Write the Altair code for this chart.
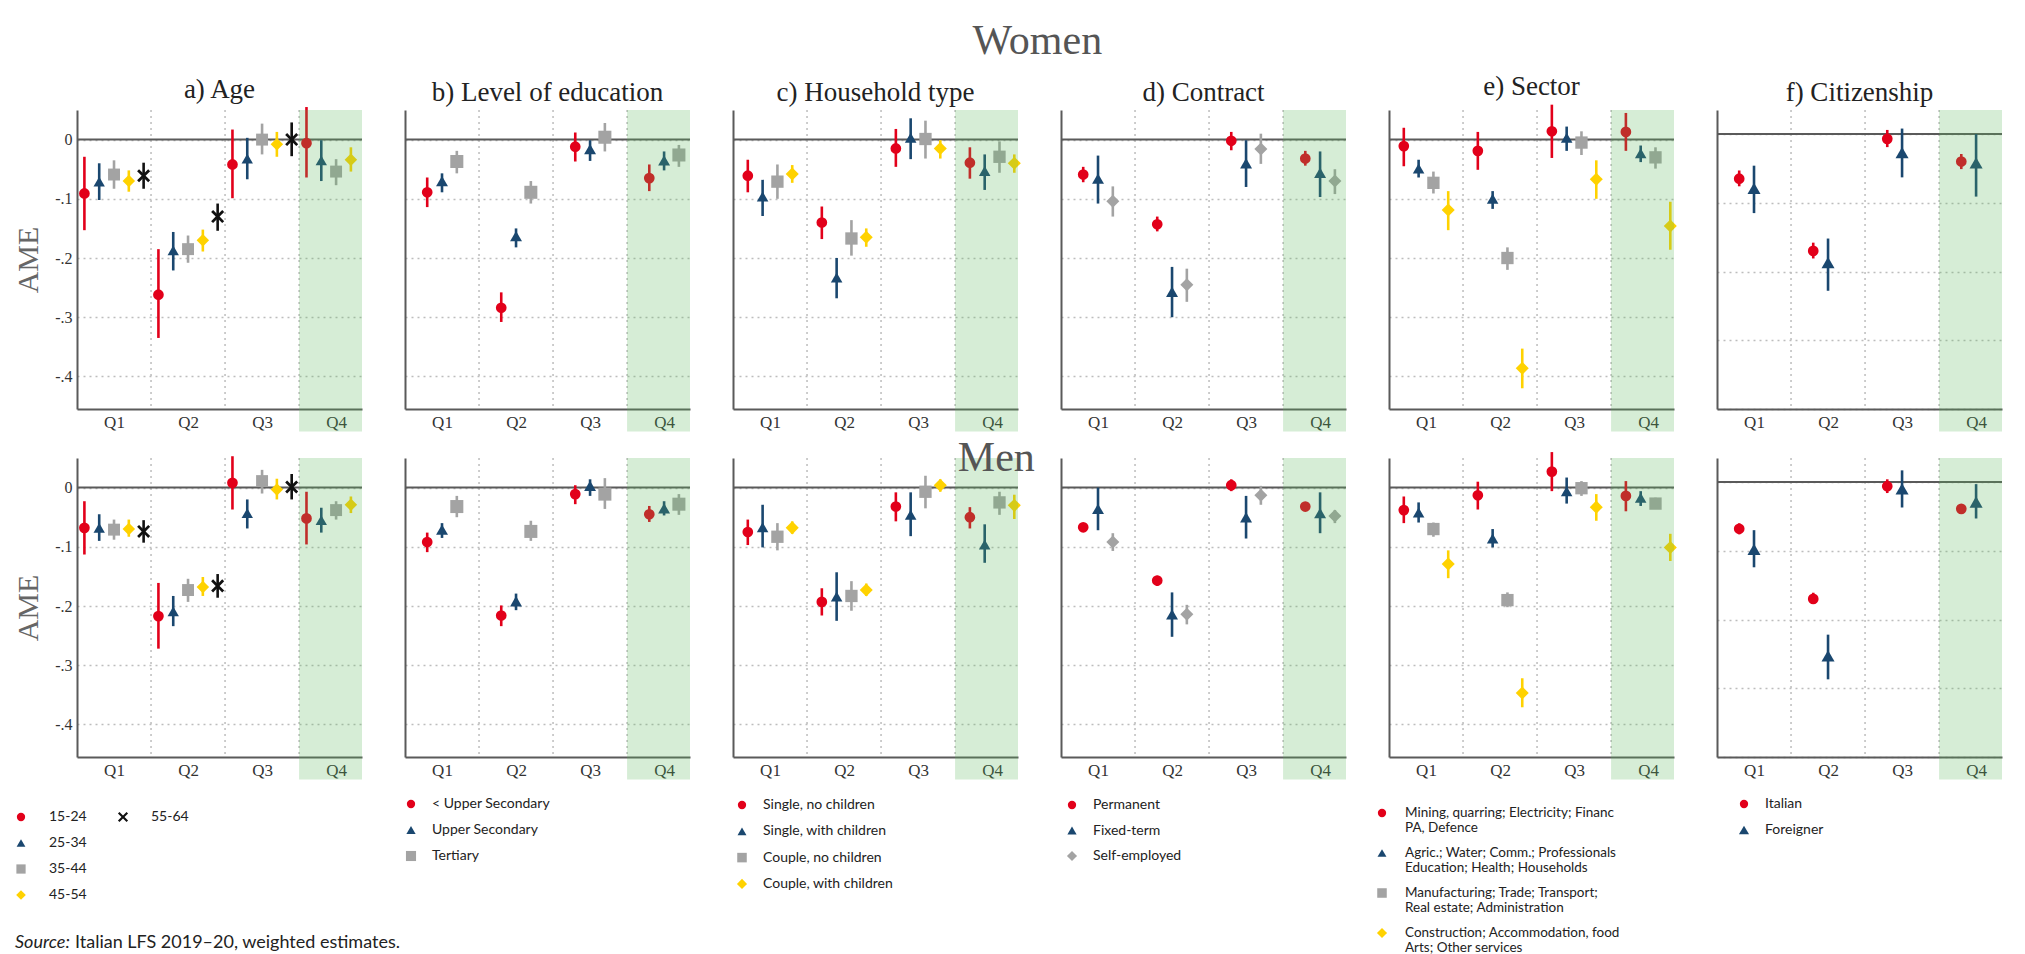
import altair as alt
import pandas as pd

SERIF = "Liberation Serif"
SANS = "Lato"

quarters = ["Q1", "Q2", "Q3", "Q4"]

# ---------------- labels ----------------
panel_titles = ["a) Age", "b) Level of education", "c) Household type",
                "d) Contract", "e) Sector", "f) Citizenship"]
age_labels = ["15-24", "25-34", "35-44", "45-54", "55-64"]
edu_labels = ["< Upper Secondary", "Upper Secondary", "Tertiary"]
hh_labels = ["Single, no children", "Single, with children",
             "Couple, no children", "Couple, with children"]
con_labels = ["Permanent", "Fixed-term", "Self-employed"]
sec_labels = ["Mining, quarring; Electricity; Financ\nPA, Defence",
              "Agric.; Water; Comm.; Professionals\nEducation; Health; Households",
              "Manufacturing; Trade; Transport;\nReal estate; Administration",
              "Construction; Accommodation, food\nArts; Other services"]
cit_labels = ["Italian", "Foreigner"]

# ---------------- Women ----------------
age_w_est = [[-0.091, -0.262, -0.042, -0.006], [-0.071, -0.187, -0.032, -0.035],
             [-0.059, -0.185, 0.000, -0.054], [-0.070, -0.170, -0.008, -0.034],
             [-0.061, -0.130, 0.000, None]]
age_w_lo = [[-0.153, -0.335, -0.099, -0.064], [-0.102, -0.221, -0.067, -0.070],
            [-0.083, -0.208, -0.025, -0.077], [-0.088, -0.189, -0.029, -0.054],
            [-0.083, -0.154, -0.028, None]]
age_w_hi = [[-0.029, -0.185, 0.017, 0.055], [-0.040, -0.156, 0.003, -0.001],
            [-0.035, -0.162, 0.027, -0.033], [-0.052, -0.152, 0.013, -0.013],
            [-0.039, -0.108, 0.029, None]]

edu_w_est = [[-0.089, -0.284, -0.012, -0.065], [-0.070, -0.163, -0.016, -0.035],
             [-0.037, -0.089, 0.004, -0.026]]
edu_w_lo = [[-0.114, -0.308, -0.037, -0.087], [-0.089, -0.182, -0.036, -0.052],
            [-0.057, -0.108, -0.020, -0.046]]
edu_w_hi = [[-0.064, -0.258, 0.012, -0.042], [-0.057, -0.150, -0.001, -0.020],
            [-0.019, -0.070, 0.028, -0.009]]

hh_w_est = [[-0.061, -0.140, -0.015, -0.039], [-0.096, -0.233, 0.003, -0.053],
            [-0.071, -0.167, 0.001, -0.029], [-0.058, -0.165, -0.015, -0.040]]
hh_w_lo = [[-0.089, -0.168, -0.046, -0.066], [-0.129, -0.268, -0.033, -0.085],
           [-0.100, -0.196, -0.032, -0.056], [-0.073, -0.181, -0.032, -0.056]]
hh_w_hi = [[-0.034, -0.113, 0.018, -0.013], [-0.068, -0.200, 0.036, -0.025],
           [-0.042, -0.136, 0.032, -0.003], [-0.043, -0.150, -0.001, -0.025]]

con_w_est = [[-0.059, -0.143, -0.002, -0.032], [-0.066, -0.257, -0.040, -0.056],
             [-0.104, -0.245, -0.016, -0.070]]
con_w_lo = [[-0.072, -0.155, -0.018, -0.044], [-0.108, -0.300, -0.080, -0.097],
            [-0.130, -0.274, -0.041, -0.092]]
con_w_hi = [[-0.046, -0.130, 0.013, -0.019], [-0.027, -0.215, -0.001, -0.020],
            [-0.079, -0.218, 0.010, -0.050]]

sec_w_est = [[-0.011, -0.019, 0.014, 0.013], [-0.049, -0.100, 0.003, -0.023],
             [-0.073, -0.200, -0.005, -0.030], [-0.119, -0.386, -0.067, -0.146]]
sec_w_lo = [[-0.045, -0.051, -0.031, -0.019], [-0.064, -0.117, -0.019, -0.038],
            [-0.091, -0.220, -0.026, -0.049], [-0.153, -0.420, -0.100, -0.186]]
sec_w_hi = [[0.020, 0.013, 0.059, 0.045], [-0.034, -0.087, 0.022, -0.010],
            [-0.054, -0.182, 0.014, -0.013], [-0.087, -0.353, -0.035, -0.105]]

cit_w_est = [[-0.065, -0.170, -0.007, -0.040], [-0.079, -0.187, -0.027, -0.042]]
cit_w_lo = [[-0.076, -0.181, -0.019, -0.051], [-0.115, -0.228, -0.063, -0.091]]
cit_w_hi = [[-0.053, -0.158, 0.006, -0.029], [-0.046, -0.152, 0.008, 0.000]]

# ---------------- Men ----------------
age_m_est = [[-0.068, -0.217, 0.008, -0.052], [-0.068, -0.209, -0.043, -0.055],
             [-0.071, -0.173, 0.011, -0.038], [-0.070, -0.168, -0.003, -0.029],
             [-0.074, -0.166, 0.001, None]]
age_m_lo = [[-0.113, -0.272, -0.037, -0.096], [-0.090, -0.234, -0.069, -0.076],
            [-0.088, -0.193, -0.010, -0.054], [-0.083, -0.183, -0.020, -0.043],
            [-0.093, -0.186, -0.020, None]]
age_m_hi = [[-0.023, -0.161, 0.053, -0.007], [-0.045, -0.183, -0.020, -0.034],
            [-0.054, -0.154, 0.030, -0.023], [-0.054, -0.151, 0.015, -0.015],
            [-0.055, -0.146, 0.023, None]]

edu_m_est = [[-0.092, -0.216, -0.011, -0.045], [-0.071, -0.192, 0.003, -0.035],
             [-0.032, -0.074, -0.011, -0.028]]
edu_m_lo = [[-0.109, -0.234, -0.028, -0.058], [-0.085, -0.207, -0.014, -0.047],
            [-0.050, -0.090, -0.036, -0.046]]
edu_m_hi = [[-0.076, -0.199, 0.004, -0.031], [-0.060, -0.179, 0.014, -0.023],
            [-0.014, -0.056, 0.016, -0.011]]

hh_m_est = [[-0.075, -0.193, -0.032, -0.050], [-0.067, -0.184, -0.046, -0.096],
            [-0.083, -0.183, -0.007, -0.025], [-0.068, -0.173, 0.004, -0.030]]
hh_m_lo = [[-0.097, -0.216, -0.057, -0.069], [-0.101, -0.225, -0.082, -0.127],
           [-0.106, -0.208, -0.035, -0.046], [-0.078, -0.183, -0.007, -0.053]]
hh_m_hi = [[-0.054, -0.170, -0.008, -0.033], [-0.029, -0.143, -0.008, -0.062],
           [-0.060, -0.158, 0.020, -0.007], [-0.057, -0.162, 0.014, -0.012]]

con_m_est = [[-0.067, -0.157, 0.004, -0.032], [-0.036, -0.214, -0.050, -0.043],
             [-0.092, -0.214, -0.013, -0.048]]
con_m_lo = [[-0.074, -0.166, -0.006, -0.038], [-0.072, -0.252, -0.086, -0.077],
            [-0.107, -0.231, -0.029, -0.060]]
con_m_hi = [[-0.060, -0.149, 0.014, -0.025], [0.000, -0.177, -0.014, -0.008],
            [-0.077, -0.198, 0.003, -0.038]]

sec_m_est = [[-0.038, -0.013, 0.027, -0.014], [-0.042, -0.086, -0.006, -0.017],
             [-0.070, -0.190, -0.001, -0.027], [-0.129, -0.347, -0.033, -0.101]]
sec_m_lo = [[-0.060, -0.037, -0.006, -0.040], [-0.059, -0.101, -0.027, -0.031],
            [-0.083, -0.202, -0.014, -0.036], [-0.153, -0.371, -0.056, -0.124]]
sec_m_hi = [[-0.015, 0.010, 0.060, 0.011], [-0.025, -0.070, 0.017, -0.006],
            [-0.059, -0.177, 0.011, -0.017], [-0.106, -0.322, -0.011, -0.078]]

cit_m_est = [[-0.068, -0.170, -0.006, -0.039], [-0.098, -0.253, -0.010, -0.029]]
cit_m_lo = [[-0.076, -0.177, -0.016, -0.046], [-0.124, -0.287, -0.037, -0.053]]
cit_m_hi = [[-0.060, -0.161, 0.004, -0.033], [-0.070, -0.222, 0.017, -0.003]]

# ---------------- styling ----------------
COLORS = ["#e2001a", "#1a476f", "#a3a3a3", "#ffd200", "#111111"]
XPATH = ("M-1,-0.7L-0.7,-1L0,-0.3L0.7,-1L1,-0.7L0.3,0L1,0.7L0.7,1L0,0.3"
         "L-0.7,1L-1,0.7L-0.3,0Z")
SHAPE_SIZE = {"circle": 115, "triangle-up": 170, "square": 85, "diamond": 140, XPATH: 70}
OFFS = {2: [0.3, 0.5], 3: [0.3, 0.5, 0.7], 4: [0.2, 0.4, 0.6, 0.8],
        5: [0.1, 0.3, 0.5, 0.7, 0.9]}
XMAX = 3.85
W, H = 285, 299
GAP = 43
YDOM = [-0.455, 0.05]
YDOM_F = [-0.40, 0.035]
GREEN = "#5cb85c"

panel_shapes = [
    ["circle", "triangle-up", "square", "diamond", XPATH],
    ["circle", "triangle-up", "square"],
    ["circle", "triangle-up", "square", "diamond"],
    ["circle", "triangle-up", "diamond"],
    ["circle", "triangle-up", "square", "diamond"],
    ["circle", "triangle-up"],
]
panel_labels = [age_labels, edu_labels, hh_labels, con_labels, sec_labels, cit_labels]
women = [(age_w_est, age_w_lo, age_w_hi), (edu_w_est, edu_w_lo, edu_w_hi),
         (hh_w_est, hh_w_lo, hh_w_hi), (con_w_est, con_w_lo, con_w_hi),
         (sec_w_est, sec_w_lo, sec_w_hi), (cit_w_est, cit_w_lo, cit_w_hi)]
men = [(age_m_est, age_m_lo, age_m_hi), (edu_m_est, edu_m_lo, edu_m_hi),
       (hh_m_est, hh_m_lo, hh_m_hi), (con_m_est, con_m_lo, con_m_hi),
       (sec_m_est, sec_m_lo, sec_m_hi), (cit_m_est, cit_m_lo, cit_m_hi)]

INDEP = dict(color="independent", shape="independent", size="independent")


def encs(labels, shapes, k=1.0):
    n = len(labels)
    color = alt.Color("series:N", scale=alt.Scale(domain=labels, range=COLORS[:n]), legend=None)
    shape = alt.Shape("series:N", scale=alt.Scale(domain=labels, range=shapes), legend=None)
    size = alt.Size("series:N", scale=alt.Scale(domain=labels,
                    range=[SHAPE_SIZE[s] * k for s in shapes]), legend=None)
    return color, shape, size


def panel(k, data, title):
    labels = panel_labels[k]
    shapes = panel_shapes[k]
    est, lo, hi = data
    n = len(labels)
    rows = []
    for i in range(n):
        for q in range(4):
            if est[i][q] is None:
                continue
            rows.append({"series": labels[i], "quarter": quarters[q],
                         "x": q + OFFS[n][i], "est": est[i][q],
                         "lo": lo[i][q], "hi": hi[i][q]})
    df = pd.DataFrame(rows)
    ydom = YDOM_F if k == 5 else YDOM
    first = k == 0
    xs = alt.Scale(domain=[0, XMAX], nice=False, zero=False)
    ys = alt.Scale(domain=ydom, nice=False, zero=False)
    xax = alt.Axis(values=[0.5, 1.5, 2.5, 3.5],
                   labelExpr="'Q' + (floor(datum.value) + 1)",
                   grid=False, ticks=False, title=None, labelFont=SERIF,
                   labelFontSize=17, labelColor="#333", labelPadding=5,
                   domainColor="#5a5a5a", domainWidth=2, labelFlush=False)
    yargs = dict(values=[0, -0.1, -0.2, -0.3, -0.4],
                 labelExpr="datum.value == 0 ? '0' : '-.' + round(abs(datum.value) * 10)",
                 grid=True, gridDash=[2, 4], gridColor="#bdbdbd", gridWidth=1.5,
                 ticks=False, labels=first, domainColor="#5a5a5a", domainWidth=2,
                 labelFont=SERIF, labelFontSize=16, labelColor="#333", labelPadding=5)
    if first:
        yargs.update(title="AME", titleFont=SERIF, titleFontSize=30,
                     titleFontWeight="normal", titleColor="#666", titlePadding=11)
    else:
        yargs.update(title=None)
    yax = alt.Axis(**yargs)
    color, shape, size = encs(labels, shapes)

    vgrid = alt.Chart(pd.DataFrame({"b": [1, 2, 3]})).mark_rule(
        color="#bdbdbd", strokeDash=[2, 4], strokeWidth=1.5
    ).encode(x=alt.X("b:Q", scale=xs, axis=xax))
    zero = alt.Chart(pd.DataFrame({"z": [0.0]})).mark_rule(
        color="#5a5a5a", strokeWidth=2
    ).encode(y=alt.Y("z:Q", scale=ys, axis=yax))
    bars = alt.Chart(df).mark_rule(strokeWidth=2.6).encode(
        x=alt.X("x:Q", scale=xs, axis=xax),
        y=alt.Y("lo:Q", scale=ys, axis=yax), y2="hi:Q", color=color)
    pts = alt.Chart(df).mark_point(filled=True, opacity=1).encode(
        x=alt.X("x:Q", scale=xs, axis=xax),
        y=alt.Y("est:Q", scale=ys, axis=yax),
        color=color, shape=shape, size=size)
    shade = alt.Chart(pd.DataFrame({"a": [3.0], "b": [XMAX], "t": [ydom[1]],
                                    "u": [ydom[0] - 0.075 * (ydom[1] - ydom[0])]})
                      ).mark_rect(color=GREEN, opacity=0.25).encode(
        x=alt.X("a:Q", scale=xs, axis=xax), x2="b:Q",
        y=alt.Y("t:Q", scale=ys, axis=yax), y2="u:Q")
    ch = alt.layer(vgrid, zero, bars, pts, shade)
    if title:
        return ch.properties(width=W, height=H, title=alt.TitleParams(
            title, font=SERIF, fontSize=27, fontWeight="normal", color="#222",
            anchor="middle", offset=2))
    return ch.properties(width=W, height=H)


LH = 147


def legend(k, mx, colstep, row0, step, cols, rowsidx, fs, dx, lh=16):
    labels = panel_labels[k]
    shapes = panel_shapes[k]
    df = pd.DataFrame({"series": labels, "label": labels, "col": cols, "row": rowsidx})
    color, shape, size = encs(labels, shapes, 0.6)
    xsc = alt.X("col:Q", scale=alt.Scale(domain=[0, 1], range=[mx, mx + colstep]), axis=None)
    ysc = alt.Y("row:Q", scale=alt.Scale(domain=[0, 1], range=[row0, row0 + step]), axis=None)
    pts = alt.Chart(df).mark_point(filled=True, opacity=1).encode(
        x=xsc, y=ysc, color=color, shape=shape, size=size)
    txt = alt.Chart(df).mark_text(align="left", baseline="middle", dx=dx, font=SANS,
                                  fontSize=fs, lineBreak="\n", lineHeight=lh,
                                  color="#222").encode(x=xsc, y=ysc, text="label:N")
    layers = [pts, txt]
    if k == 0:
        src = pd.DataFrame({"s": ["Source:"],
                            "t": ["Italian LFS 2019\u201320, weighted estimates."]})
        layers.append(alt.Chart(src).mark_text(
            align="left", baseline="middle", font=SANS, fontSize=18, fontStyle="italic",
            color="#222").encode(x=alt.value(-62), y=alt.value(LH), text="s:N"))
        layers.append(alt.Chart(src).mark_text(
            align="left", baseline="middle", font=SANS, fontSize=18, color="#222"
        ).encode(x=alt.value(-2), y=alt.value(LH), text="t:N"))
    return alt.layer(*layers).properties(width=W, height=LH)


women_panels = [panel(k, women[k], panel_titles[k]) for k in range(6)]
men_panels = [panel(k, men[k], None) for k in range(6)]

top = alt.hconcat(*women_panels, spacing=GAP, bounds="flush").properties(
    title=alt.TitleParams("Women", font=SERIF, fontSize=42, fontWeight="normal",
                          color="#555", anchor="middle", offset=10, dx=29)
).resolve_scale(**INDEP)
bottom = alt.hconcat(*men_panels, spacing=GAP, bounds="flush").properties(
    title=alt.TitleParams("Men", font=SERIF, fontSize=42, fontWeight="normal",
                          color="#555", anchor="middle", offset=-29, dx=-12)
).resolve_scale(**INDEP)

legs = alt.hconcat(
    legend(0, -56, 102, 21, 26, [0, 0, 0, 0, 1], [0, 1, 2, 3, 0], 14, 28),
    legend(1, 6, 100, 8, 26, [0, 0, 0], [0, 1, 2], 14, 21),
    legend(2, 9, 100, 9, 26.3, [0, 0, 0, 0], [0, 1, 2, 3], 14, 21),
    legend(3, 11, 100, 9, 25.5, [0, 0, 0], [0, 1, 2], 14, 21),
    legend(4, -7, 100, 17, 40, [0, 0, 0, 0], [0, 1, 2, 3], 13.5, 23, lh=15),
    legend(5, 27, 100, 8, 26, [0, 0], [0, 1], 14, 21),
    spacing=GAP, bounds="flush").resolve_scale(**INDEP)

rows12 = alt.vconcat(top, bottom, spacing=4).resolve_scale(**INDEP)
chart = alt.vconcat(rows12, legs, spacing=16).resolve_scale(**INDEP).properties(
    padding={"left": 5, "right": 0, "top": 12, "bottom": 0}
).configure_view(strokeWidth=0)

chart.save("out.html", embed_options={"renderer": "svg", "actions": False})
